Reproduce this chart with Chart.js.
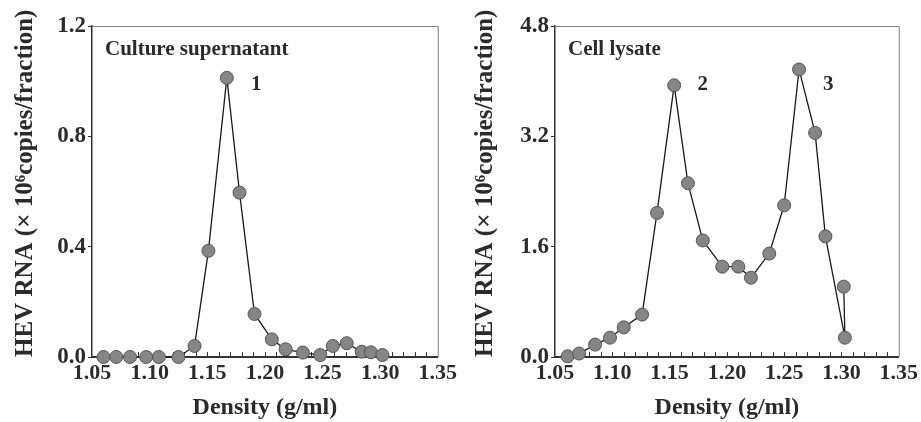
<!DOCTYPE html>
<html>
<head>
<meta charset="utf-8">
<script src="https://cdn.jsdelivr.net/npm/chart.js@4.4.1/dist/chart.umd.min.js"></script>
<style>
  html, body { margin: 0; padding: 0; background: #fff; }
  .panel { position: absolute; top: 0; height: 422px; }
  #left { left: 0; width: 460px; }
  #right { left: 460px; width: 461px; }
</style>
</head>
<body>
<div class="panel" id="left"><canvas id="supChart"></canvas></div>
<div class="panel" id="right"><canvas id="lysChart"></canvas></div>
<script>
const xTickLabels = [1.05, 1.10, 1.15, 1.20, 1.25, 1.30, 1.35];

// culture supernatant
const supDensity = [1.060, 1.071, 1.083, 1.097, 1.108, 1.125, 1.139, 1.151, 1.167, 1.178,
                    1.191, 1.206, 1.218, 1.233, 1.248, 1.259, 1.271, 1.284, 1.292, 1.302];
const supRNA = [0, 0, 0, 0, 0, 0, 0.04, 0.385, 1.012, 0.596,
                0.156, 0.064, 0.028, 0.016, 0.007, 0.04, 0.05, 0.019, 0.017, 0.007];
const supTicksY = [0, 0.4, 0.8, 1.2];

// cell lysate
const lysDensity = [1.061, 1.071, 1.085, 1.098, 1.110, 1.126, 1.139, 1.154, 1.166, 1.179,
                    1.196, 1.210, 1.221, 1.237, 1.250, 1.263, 1.277, 1.286, 1.303, 1.302];
const lysRNA = [0.01, 0.05, 0.18, 0.28, 0.43, 0.615, 2.09, 3.94, 2.52, 1.69,
                1.31, 1.31, 1.15, 1.50, 2.20, 4.17, 3.25, 1.75, 0.28, 1.02];
const lysTicksY = [0, 1.6, 3.2, 4.8];

const serif = '"Liberation Serif", "Times New Roman", serif';
const ink = '#2b2b2b';

// box frame, small inward ticks on the density axis, text inside the plot
function makeExtras(title, peaks) {
  return {
    id: 'extras',
    beforeDatasetsDraw(chart) {
      const {ctx, chartArea: a, scales: {x}} = chart;
      ctx.save();
      ctx.strokeStyle = '#808080';
      ctx.lineWidth = 1;
      ctx.beginPath();
      ctx.moveTo(a.left, a.top + 0.5);
      ctx.lineTo(a.right + 0.5, a.top + 0.5);
      ctx.lineTo(a.right + 0.5, a.bottom);
      ctx.stroke();
      ctx.strokeStyle = '#333';
      ctx.beginPath();
      for (let i = 1; i < 30; i++) {
        const px = Math.round(x.getPixelForValue(1.05 + i * 0.01)) + 0.5;
        ctx.moveTo(px, a.bottom);
        ctx.lineTo(px, a.bottom - 5);
      }
      ctx.stroke();
      ctx.restore();
    },
    afterDraw(chart) {
      const {ctx, chartArea: a, scales: {x, y}} = chart;
      ctx.save();
      ctx.fillStyle = ink;
      ctx.font = 'bold 21px ' + serif;
      ctx.textBaseline = 'middle';
      ctx.textAlign = 'left';
      ctx.fillText(title, a.left + 13, a.top + 24);
      ctx.textAlign = 'center';
      peaks.forEach(p => ctx.fillText(p.text, x.getPixelForValue(p.x), y.getPixelForValue(p.y)));
      ctx.restore();
    }
  };
}

function makeChart(id, density, rna, ticksY, yWidth, padRight, title, peaks) {
  return new Chart(document.getElementById(id), {
    type: 'scatter',
    data: {
      datasets: [{
        data: density.map((d, i) => ({x: d, y: rna[i]})),
        showLine: true,
        borderColor: '#1a1a1a',
        borderWidth: 1.3,
        pointRadius: 6.5,
        pointBackgroundColor: '#858585',
        pointBorderColor: '#555',
        pointBorderWidth: 1,
        clip: false
      }]
    },
    options: {
      responsive: true,
      maintainAspectRatio: false,
      animation: false,
      layout: { padding: { top: 26, right: padRight, bottom: 0, left: 0 } },
      plugins: {
        legend: { display: false },
        tooltip: { enabled: false }
      },
      scales: {
        x: {
          type: 'linear',
          min: 1.05,
          max: 1.35,
          afterBuildTicks: s => { s.ticks = xTickLabels.map(v => ({value: v})); },
          afterFit: s => { s.height = 65; },
          ticks: {
            callback: v => v.toFixed(2),
            font: { family: serif, size: 22, weight: 'bold' },
            color: ink,
            padding: 3,
            maxRotation: 0,
            autoSkip: false
          },
          grid: { drawOnChartArea: false, drawTicks: false },
          border: { color: '#333', width: 2 },
          title: {
            display: true,
            text: 'Density (g/ml)',
            font: { family: serif, size: 24, weight: 'bold' },
            color: ink,
            padding: { top: 0, bottom: 0 }
          }
        },
        y: {
          min: ticksY[0],
          max: ticksY[ticksY.length - 1],
          afterBuildTicks: s => { s.ticks = ticksY.map(v => ({value: v})); },
          afterFit: s => { s.width = yWidth; },
          ticks: {
            callback: v => v.toFixed(1),
            font: { family: serif, size: 23, weight: 'bold' },
            color: ink,
            padding: 2
          },
          grid: { drawOnChartArea: false, tickLength: 4, color: '#333' },
          border: { color: '#333', width: 1.5 },
          title: {
            display: true,
            text: 'HEV RNA (× 10⁶copies/fraction)',
            align: 'start',
            font: { family: serif, size: 25, weight: 'bold' },
            color: ink,
            padding: { top: 11, bottom: 0 }
          }
        }
      }
    },
    plugins: [makeExtras(title, peaks)]
  });
}

makeChart('supChart', supDensity, supRNA, supTicksY, 92, 22, 'Culture supernatant',
  [{text: '1', x: 1.1925, y: 0.987}]);
makeChart('lysChart', lysDensity, lysRNA, lysTicksY, 95, 18, 'Cell lysate',
  [{text: '2', x: 1.179, y: 3.95}, {text: '3', x: 1.2885, y: 3.95}]);
</script>
</body>
</html>
